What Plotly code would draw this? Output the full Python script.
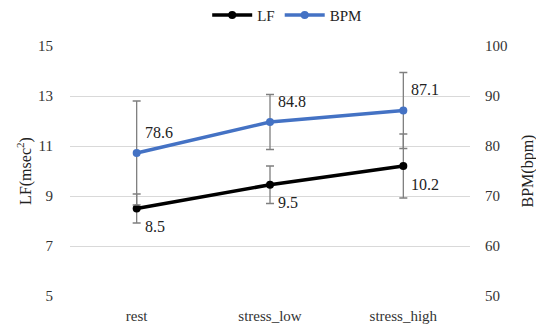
import plotly.graph_objects as go

categories = ["rest", "stress_low", "stress_high"]
lf_values = [8.5, 9.45, 10.2]
lf_errors = [0.58, 0.75, 1.28]
bpm_values = [78.6, 84.8, 87.1]
bpm_errors = [10.4, 5.5, 7.6]
lf_labels = ["8.5", "9.5", "10.2"]
bpm_labels = ["78.6", "84.8", "87.1"]

FONT = "Liberation Serif"
BLUE = "#4472C4"
GRID = "#D9D9D9"
ERR = "#7F7F7F"

fig = go.Figure()
fig.add_trace(go.Scatter(
    x=categories, y=bpm_values, name="BPM", yaxis="y2",
    mode="lines+markers",
    line=dict(color=BLUE, width=3.5),
    marker=dict(color=BLUE, size=8),
    error_y=dict(type="data", array=bpm_errors, visible=True,
                 color=ERR, thickness=1.3, width=4),
    legendrank=2,
))
fig.add_trace(go.Scatter(
    x=categories, y=lf_values, name="LF", yaxis="y",
    mode="lines+markers",
    line=dict(color="black", width=3.5),
    marker=dict(color="black", size=8),
    error_y=dict(type="data", array=lf_errors, visible=True,
                 color=ERR, thickness=1.3, width=4),
    legendrank=1,
))

annotations = []
for c, v, t in zip(categories, bpm_values, bpm_labels):
    annotations.append(dict(x=c, y=v, xref="x", yref="y2", text=t,
                            showarrow=False, xanchor="left", yanchor="middle",
                            xshift=6, yshift=21,
                            font=dict(family=FONT, size=16, color="#222")))
for c, v, t in zip(categories, lf_values, lf_labels):
    annotations.append(dict(x=c, y=v, xref="x", yref="y", text=t,
                            showarrow=False, xanchor="left", yanchor="middle",
                            xshift=6, yshift=-18,
                            font=dict(family=FONT, size=16, color="#222")))

fig.update_layout(
    width=536, height=317,
    margin=dict(l=62, r=74, t=38, b=29, autoexpand=False),
    paper_bgcolor="white", plot_bgcolor="white",
    font=dict(family=FONT, size=15, color="#404040"),
    showlegend=True,
    legend=dict(orientation="h", x=0.543, xanchor="center", y=0.925, yanchor="bottom",
                yref="container", font=dict(family=FONT, size=15, color="#222"),
                itemwidth=40, tracegroupgap=0),
    xaxis=dict(range=[-0.5, 2.5], showgrid=False, showline=False, zeroline=False,
               ticks="", ticklabelstandoff=9, automargin=False,
               tickfont=dict(family=FONT, size=15, color="#333")),
    yaxis=dict(range=[5, 15], dtick=2, tick0=5, showgrid=True, gridcolor=GRID,
               gridwidth=1, zeroline=False, showline=False, ticks="",
               ticklabelstandoff=16, automargin=False,
               tickfont=dict(family=FONT, size=15, color="#333"),
               title=dict(text="LF(msec<sup>2</sup>)", standoff=2,
                          font=dict(family=FONT, size=16, color="#222"))),
    yaxis2=dict(range=[50, 100], dtick=10, overlaying="y", side="right",
                showgrid=False, zeroline=False, showline=False, ticks="",
                ticklabelstandoff=14, automargin=False,
                tickfont=dict(family=FONT, size=15, color="#333"),
                title=dict(text="BPM(bpm)", standoff=15,
                           font=dict(family=FONT, size=16, color="#222"))),
    annotations=annotations,
)
fig.write_html("out.html")
